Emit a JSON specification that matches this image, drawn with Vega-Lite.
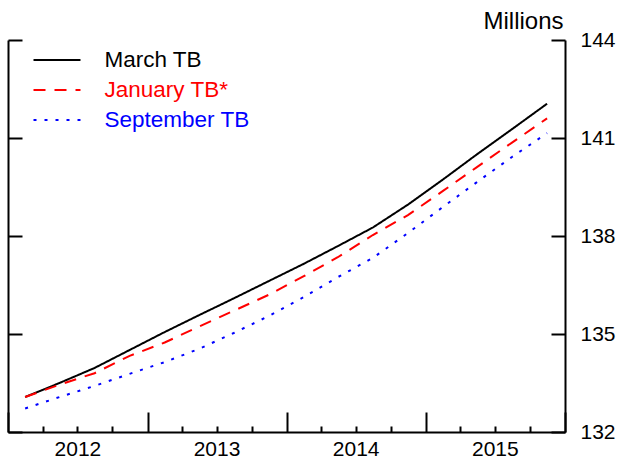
{
  "$schema": "https://vega.github.io/schema/vega-lite/v6.json",
  "width": 557,
  "height": 392,
  "autosize": {"type": "none"},
  "padding": {"left": 8, "top": 40, "right": 54, "bottom": 28},
  "config": {
    "font": "Liberation Sans",
    "view": {"stroke": null},
    "axis": {"grid": false, "domainColor": "black", "domainWidth": 2, "tickColor": "black", "tickWidth": 2, "labelColor": "black", "labelFont": "Liberation Sans", "labelFontSize": 21}
  },
  "data": {
    "values": [
      {"date": "2012-02-15", "series": "March TB", "value": 133.07},
      {"date": "2012-05-15", "series": "March TB", "value": 133.50},
      {"date": "2012-08-15", "series": "March TB", "value": 133.96},
      {"date": "2012-11-15", "series": "March TB", "value": 134.51},
      {"date": "2013-02-15", "series": "March TB", "value": 135.06},
      {"date": "2013-05-15", "series": "March TB", "value": 135.57},
      {"date": "2013-08-15", "series": "March TB", "value": 136.09},
      {"date": "2013-11-15", "series": "March TB", "value": 136.62},
      {"date": "2014-02-15", "series": "March TB", "value": 137.15},
      {"date": "2014-05-15", "series": "March TB", "value": 137.69},
      {"date": "2014-08-15", "series": "March TB", "value": 138.26},
      {"date": "2014-11-15", "series": "March TB", "value": 138.96},
      {"date": "2015-02-15", "series": "March TB", "value": 139.73},
      {"date": "2015-05-15", "series": "March TB", "value": 140.50},
      {"date": "2015-08-15", "series": "March TB", "value": 141.27},
      {"date": "2015-11-15", "series": "March TB", "value": 142.05},
      {"date": "2012-02-15", "series": "January TB*", "value": 133.07},
      {"date": "2012-05-15", "series": "January TB*", "value": 133.45},
      {"date": "2012-08-15", "series": "January TB*", "value": 133.80},
      {"date": "2012-11-15", "series": "January TB*", "value": 134.33},
      {"date": "2013-02-15", "series": "January TB*", "value": 134.74},
      {"date": "2013-05-15", "series": "January TB*", "value": 135.22},
      {"date": "2013-08-15", "series": "January TB*", "value": 135.71},
      {"date": "2013-11-15", "series": "January TB*", "value": 136.20},
      {"date": "2014-02-15", "series": "January TB*", "value": 136.77},
      {"date": "2014-05-15", "series": "January TB*", "value": 137.35},
      {"date": "2014-08-15", "series": "January TB*", "value": 138.03},
      {"date": "2014-11-15", "series": "January TB*", "value": 138.64},
      {"date": "2015-02-15", "series": "January TB*", "value": 139.38},
      {"date": "2015-05-15", "series": "January TB*", "value": 140.11},
      {"date": "2015-08-15", "series": "January TB*", "value": 140.86},
      {"date": "2015-11-15", "series": "January TB*", "value": 141.60},
      {"date": "2012-02-15", "series": "September TB", "value": 132.72},
      {"date": "2012-05-15", "series": "September TB", "value": 133.07},
      {"date": "2012-08-15", "series": "September TB", "value": 133.41},
      {"date": "2012-11-15", "series": "September TB", "value": 133.78},
      {"date": "2013-02-15", "series": "September TB", "value": 134.14},
      {"date": "2013-05-15", "series": "September TB", "value": 134.54},
      {"date": "2013-08-15", "series": "September TB", "value": 135.03},
      {"date": "2013-11-15", "series": "September TB", "value": 135.55},
      {"date": "2014-02-15", "series": "September TB", "value": 136.13},
      {"date": "2014-05-15", "series": "September TB", "value": 136.74},
      {"date": "2014-08-15", "series": "September TB", "value": 137.33},
      {"date": "2014-11-15", "series": "September TB", "value": 138.09},
      {"date": "2015-02-15", "series": "September TB", "value": 138.89},
      {"date": "2015-05-15", "series": "September TB", "value": 139.65},
      {"date": "2015-08-15", "series": "September TB", "value": 140.42},
      {"date": "2015-11-15", "series": "September TB", "value": 141.15}
    ]
  },
  "encoding": {
    "x": {
      "field": "date",
      "type": "temporal",
      "scale": {"type": "utc", "domain": [{"year": 2012, "month": 1, "date": 1, "utc": true}, {"year": 2016, "month": 1, "date": 1, "utc": true}], "nice": false},
      "axis": {
        "title": null,
        "values": [
          {"year": 2012, "month": 1, "date": 1, "utc": true}, {"year": 2012, "month": 4, "date": 1, "utc": true}, {"year": 2012, "month": 7, "date": 1, "utc": true}, {"year": 2012, "month": 10, "date": 1, "utc": true},
          {"year": 2013, "month": 1, "date": 1, "utc": true}, {"year": 2013, "month": 4, "date": 1, "utc": true}, {"year": 2013, "month": 7, "date": 1, "utc": true}, {"year": 2013, "month": 10, "date": 1, "utc": true},
          {"year": 2014, "month": 1, "date": 1, "utc": true}, {"year": 2014, "month": 4, "date": 1, "utc": true}, {"year": 2014, "month": 7, "date": 1, "utc": true}, {"year": 2014, "month": 10, "date": 1, "utc": true},
          {"year": 2015, "month": 1, "date": 1, "utc": true}, {"year": 2015, "month": 4, "date": 1, "utc": true}, {"year": 2015, "month": 7, "date": 1, "utc": true}, {"year": 2015, "month": 10, "date": 1, "utc": true},
          {"year": 2016, "month": 1, "date": 1, "utc": true}
        ],
        "labelExpr": "utcmonth(datum.value) == 6 ? utcFormat(datum.value, '%Y') : ''",
        "tickSize": {"condition": {"test": "utcmonth(datum.value) == 0", "value": -20}, "value": -6},
        "labelPadding": 12,
        "labelFontSize": 21,
        "labelOverlap": false,
        "labelFlush": false
      }
    }
  },
  "layer": [
    {
      "mark": {"type": "line", "strokeWidth": 2},
      "encoding": {
        "y": {
          "field": "value",
          "type": "quantitative",
          "scale": {"domain": [132, 144], "nice": false, "zero": false},
          "axis": {"orient": "right", "values": [132, 135, 138, 141, 144], "tickSize": -14, "labelPadding": 29, "labelFontSize": 21, "labelBaseline": "middle",
            "title": "Millions", "titleAngle": 0, "titleAlign": "right", "titleBaseline": "alphabetic", "titleX": -2, "titleY": -12, "titleFontSize": 24, "titleFontWeight": "normal", "titleFont": "Liberation Sans", "titleColor": "black"}
        },
        "color": {
          "field": "series",
          "type": "nominal",
          "scale": {"domain": ["March TB", "January TB*", "September TB"], "range": ["#000000", "#ff0000", "#0000ff"]},
          "legend": {
            "title": null,
            "orient": "none",
            "legendX": 36,
            "legendY": 7,
            "padding": 0,
            "symbolType": "M-2,0H2",
            "symbolSize": 552,
            "symbolStrokeWidth": 2,
            "labelFontSize": 22.5,
            "labelFont": "Liberation Sans",
            "labelOffset": 34.5,
            "labelLimit": 300,
            "rowPadding": 5,
            "encode": {"labels": {"update": {"fill": {"signal": "datum.value == 'March TB' ? '#000000' : datum.value == 'January TB*' ? '#ff0000' : '#0000ff'"}}}}
          }
        },
        "strokeDash": {
          "field": "series",
          "type": "nominal",
          "scale": {"domain": ["March TB", "January TB*", "September TB"], "range": [[1, 0], [12, 9], [3, 8]]},
          "legend": null
        }
      }
    },
    {
      "mark": {"type": "line", "opacity": 0},
      "encoding": {
        "y": {
          "field": "value",
          "type": "quantitative",
          "scale": {"domain": [132, 144], "nice": false, "zero": false},
          "axis": {"orient": "left", "values": [132, 135, 138, 141, 144], "tickSize": -14, "labels": false, "title": null}
        },
        "detail": {"field": "series", "type": "nominal"}
      }
    }
  ],
  "resolve": {"axis": {"y": "independent"}}
}
